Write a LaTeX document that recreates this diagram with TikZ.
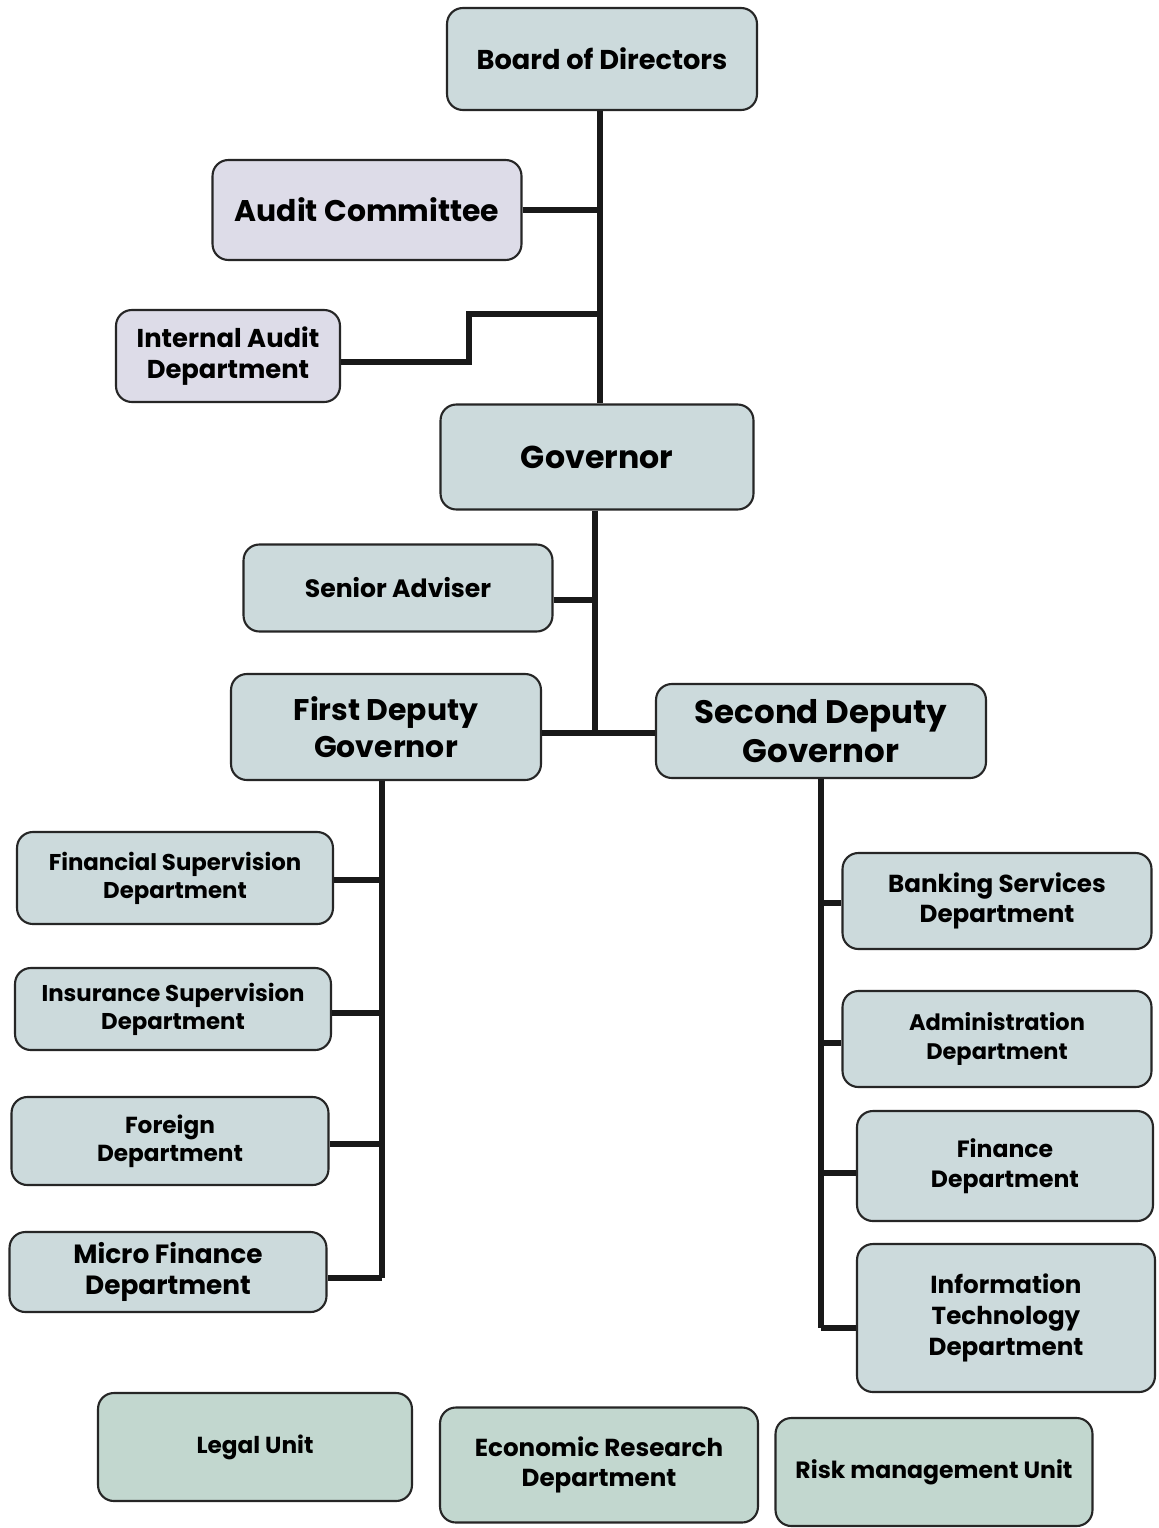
\documentclass[tikz,border=0pt]{standalone}
\usepackage{fontspec}
\setmainfont{Poppins}
\begin{document}
\begin{tikzpicture}[x=0.02cm,y=-0.02cm,
  box/.style={draw=black!85,line width=1.2pt,rounded corners=9pt,fill=boxfill,align=center,font=\bfseries,inner sep=2pt},
  lav/.style={box,fill=lavfill},
  bot/.style={box,fill=botfill},
  link/.style={line width=3.4pt,black!90}]
\definecolor{boxfill}{HTML}{CCDADC}
\definecolor{lavfill}{HTML}{DDDCE8}
\definecolor{botfill}{HTML}{C2D7CF}
\useasboundingbox (0,0) rectangle (1159,1528);
\fill[white] (0,0) rectangle (1159,1528);
% nodes
\node[box,minimum width=6.2cm,minimum height=2.04cm,font=\bfseries\fontsize{15.5}{19}\selectfont] (bod) at (602,59) {Board of Directors};
\node[lav,minimum width=6.18cm,minimum height=2.0cm,font=\bfseries\fontsize{17}{21}\selectfont] (ac) at (367,210) {Audit Committee};
\node[lav,minimum width=4.48cm,minimum height=1.84cm,font=\bfseries\fontsize{14.7}{18}\selectfont] (iad) at (228,356) {Internal Audit\\Department};
\node[box,minimum width=6.26cm,minimum height=2.1cm,font=\bfseries\fontsize{18}{22}\selectfont] (gov) at (597,457) {Governor};
\node[box,minimum width=6.18cm,minimum height=1.74cm,font=\bfseries\fontsize{14.3}{18}\selectfont] (sa) at (398,588) {Senior Adviser};
\node[box,minimum width=6.2cm,minimum height=2.12cm,font=\bfseries\fontsize{17}{21}\selectfont] (fdg) at (386,727) {First Deputy\\Governor};
\node[box,minimum width=6.6cm,minimum height=1.88cm,font=\bfseries\fontsize{18.5}{22}\selectfont] (sdg) at (821,731) {Second Deputy\\Governor};
% left column
\node[box,minimum width=6.32cm,minimum height=1.84cm,font=\bfseries\fontsize{13}{16}\selectfont] (fsd) at (175,878) {Financial Supervision\\Department};
\node[box,minimum width=6.32cm,minimum height=1.64cm,font=\bfseries\fontsize{13}{16}\selectfont] (isd) at (173,1009) {Insurance Supervision\\Department};
\node[box,minimum width=6.34cm,minimum height=1.76cm,font=\bfseries\fontsize{13.2}{16}\selectfont] (fd) at (170,1141) {Foreign\\Department};
\node[box,minimum width=6.34cm,minimum height=1.6cm,font=\bfseries\fontsize{15}{18}\selectfont] (mfd) at (168,1272) {Micro Finance\\Department};
% right column
\node[box,minimum width=6.18cm,minimum height=1.92cm,font=\bfseries\fontsize{14}{17.5}\selectfont] (bsd) at (997,901) {Banking Services\\Department};
\node[box,minimum width=6.18cm,minimum height=1.92cm,font=\bfseries\fontsize{12.8}{16.5}\selectfont] (ad) at (997,1039) {Administration\\Department};
\node[box,minimum width=5.92cm,minimum height=2.2cm,font=\bfseries\fontsize{13.4}{17}\selectfont] (find) at (1005,1166) {Finance\\Department};
\node[box,minimum width=5.96cm,minimum height=2.96cm,font=\bfseries\fontsize{14}{17.5}\selectfont] (itd) at (1006,1318) {Information\\Technology\\Department};
% bottom row
\node[bot,minimum width=6.28cm,minimum height=2.16cm,font=\bfseries\fontsize{13.2}{16}\selectfont] (lu) at (255,1447) {Legal Unit};
\node[bot,minimum width=6.36cm,minimum height=2.3cm,font=\bfseries\fontsize{14}{17}\selectfont] (erd) at (599,1465) {Economic Research\\Department};
\node[bot,minimum width=6.34cm,minimum height=2.16cm,font=\bfseries\fontsize{13.4}{16}\selectfont] (rmu) at (934,1472) {Risk management Unit};
% connectors
\coordinate (t1) at (600,314);
\draw[link] (bod.south -| t1) -- (gov.north -| t1);
\draw[link] (ac.east) -- (ac.east -| t1);
\draw[link] (iad.east |- 0,362) -- (469,362) -- (469,314) -- (t1);
\coordinate (t2) at (595,733);
\draw[link] (gov.south -| t2) -- (t2);
\draw[link] (sa.east |- 0,600) -- (595,600);
\draw[link] (fdg.east |- t2) -- (sdg.west |- t2);
\coordinate (t3) at (382,1278);
\draw[link] (fdg.south -| t3) -- (t3);
\draw[link] (fsd.east |- 0,880) -- (382,880);
\draw[link] (isd.east |- 0,1013) -- (382,1013);
\draw[link] (fd.east |- 0,1144) -- (382,1144);
\draw[link] (mfd.east |- t3) -- (t3);
\coordinate (t4) at (821,1328);
\draw[link] (sdg.south -| t4) -- (t4);
\draw[link] (821,903) -- (bsd.west |- 0,903);
\draw[link] (821,1043) -- (ad.west |- 0,1043);
\draw[link] (821,1173) -- (find.west |- 0,1173);
\draw[link] (t4) -- (itd.west |- t4);
\end{tikzpicture}
\end{document}
